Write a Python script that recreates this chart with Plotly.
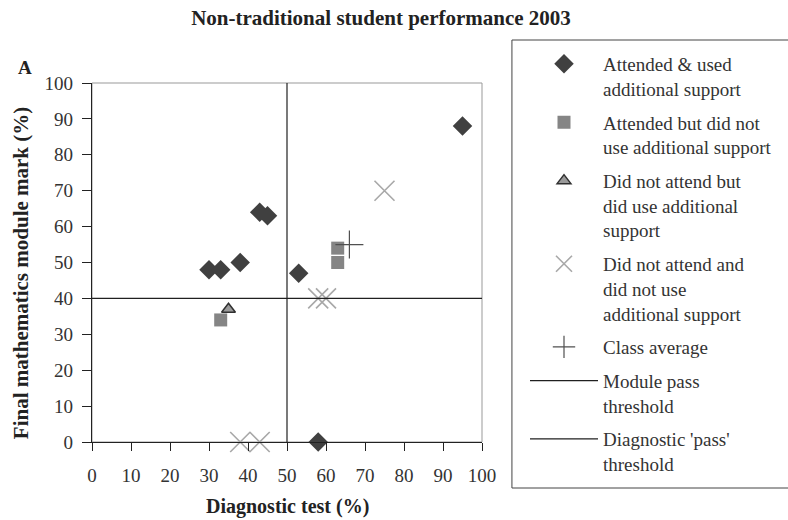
import plotly.graph_objects as go

# ---- data ----
attended_used_x = [30, 33, 38, 43, 45, 53, 95, 58]
attended_used_y = [48, 48, 50, 64, 63, 47, 88, 0]

attended_notused_x = [33, 63, 63]
attended_notused_y = [34, 50, 54]

notattend_used_x = [35]
notattend_used_y = [37]

notattend_notused_x = [75, 58, 60, 38, 43]
notattend_notused_y = [70, 40, 40, 0, 0]

class_avg_x = [66]
class_avg_y = [55]

module_pass = 40       # y threshold
diagnostic_pass = 50   # x threshold

x_ticks = list(range(0, 101, 10))
y_ticks = list(range(0, 101, 10))

FONT = "Liberation Serif"

fig = go.Figure()

fig.add_trace(go.Scatter(
    x=attended_used_x, y=attended_used_y, mode="markers", cliponaxis=False,
    name="Attended & used<br>additional support", legendgroup="a",
    marker=dict(symbol="diamond", size=15, color="#404040",
                line=dict(width=0))))
fig.add_trace(go.Scatter(
    x=attended_notused_x, y=attended_notused_y, mode="markers", cliponaxis=False,
    name="Attended but did not<br>use additional support", legendgroup="b",
    marker=dict(symbol="square", size=13, color="#858585",
                line=dict(width=0))))
fig.add_trace(go.Scatter(
    x=notattend_used_x, y=notattend_used_y, mode="markers", cliponaxis=False,
    name="Did not attend but<br>did use additional<br>support", legendgroup="c",
    marker=dict(symbol="triangle-up", size=12, color="#9a9a9a",
                line=dict(width=1.5, color="#303030"))))
fig.add_trace(go.Scatter(
    x=notattend_notused_x, y=notattend_notused_y, mode="markers", cliponaxis=False,
    name="Did not attend and<br>did not use<br>additional support", legendgroup="d",
    marker=dict(symbol="x-thin-open", size=20, color="#a8a8a8",
                line=dict(width=1.6, color="#a8a8a8"))))
fig.add_trace(go.Scatter(
    x=class_avg_x, y=class_avg_y, mode="markers", cliponaxis=False,
    name="Class average", legendgroup="e",
    marker=dict(symbol="cross-thin-open", size=20, color="#505050",
                line=dict(width=1.2, color="#505050"))))
fig.add_trace(go.Scatter(
    x=[0, 100], y=[module_pass, module_pass], mode="lines",
    name="Module pass<br>threshold", legendgroup="f",
    line=dict(color="#202020", width=1.2)))
fig.add_trace(go.Scatter(
    x=[diagnostic_pass, diagnostic_pass], y=[0, 100], mode="lines",
    name="Diagnostic 'pass'<br>threshold", legendgroup="g",
    line=dict(color="#202020", width=1.2)))

fig.update_layout(
    width=788, height=520,
    margin=dict(l=92, r=305, t=83, b=78),
    paper_bgcolor="white", plot_bgcolor="white",
    font=dict(family=FONT, size=19, color="#222"),
    title=dict(text="<b>Non-traditional student performance 2003</b>",
               x=381 / 788, xanchor="center", y=1 - 18 / 520, yanchor="middle",
               font=dict(family=FONT, size=21, color="#222")),
    xaxis=dict(range=[0, 100], tickvals=x_ticks, showgrid=False, zeroline=False,
               showline=True, linecolor="#222", linewidth=1.2,
               ticks="outside", ticklen=8, tickcolor="#222",
               ticklabelstandoff=8,
               tickfont=dict(family=FONT, size=19, color="#333")),
    yaxis=dict(range=[0, 100], tickvals=y_ticks, showgrid=False, zeroline=False,
               showline=True, linecolor="#222", linewidth=1.2,
               ticks="outside", ticklen=9, tickcolor="#222",
               ticklabelstandoff=5,
               tickfont=dict(family=FONT, size=19, color="#333")),
    legend=dict(x=(525 - 92) / 391, y=(442 - 45) / 359, xanchor="left", yanchor="top",
                bgcolor="rgba(0,0,0,0)", borderwidth=0,
                font=dict(family=FONT, size=19, color="#333"),
                itemwidth=68, tracegroupgap=6, traceorder="grouped",
                itemsizing="trace", valign="top", maxheight=500),
    showlegend=True,
)

# plot frame (top/right light grey)
fig.add_shape(type="rect", xref="paper", yref="paper", x0=0, y0=0, x1=1, y1=1,
              line=dict(color="#999", width=1), layer="below")
# legend box
fig.add_shape(type="rect", xref="paper", yref="paper",
              x0=(513 - 92) / 391, x1=(800 - 92) / 391,
              y0=(442 - 488) / 359, y1=(442 - 40) / 359,
              line=dict(color="#444", width=1))

# axis titles
fig.add_annotation(text="<b>Diagnostic test (%)</b>", xref="paper", yref="paper",
                   x=0.5, y=(442 - 506) / 359, xanchor="center", yanchor="middle",
                   showarrow=False,
                   font=dict(family=FONT, size=20, color="#222"))
fig.add_annotation(text="<b>Final mathematics module mark (%)</b>", xref="paper", yref="paper",
                   x=(21 - 92) / 391, y=(442 - 273) / 359, xanchor="center", yanchor="middle",
                   textangle=-90, showarrow=False,
                   font=dict(family=FONT, size=21, color="#222"))
fig.add_annotation(text="<b>A</b>", xref="paper", yref="paper",
                   x=(25 - 92) / 391, y=(442 - 67) / 359, xanchor="center", yanchor="middle",
                   showarrow=False,
                   font=dict(family=FONT, size=19, color="#222"))

fig.write_html("out.html", config={"displayModeBar": False},
               post_script="document.body.style.margin='0px';")
